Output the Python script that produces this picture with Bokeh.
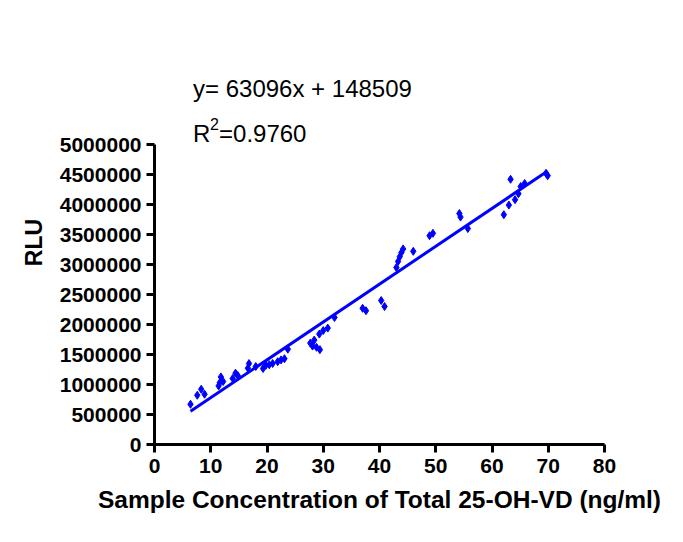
from bokeh.plotting import figure
from bokeh.models import Label, Range1d, FixedTicker, NumeralTickFormatter
from bokeh.embed import file_html
from bokeh.resources import INLINE

# ---- data ----
conc = [6.4, 7.6, 8.3, 8.9, 11.4, 11.6, 11.8, 12.2, 13.9, 14.4, 14.8, 16.6, 16.8, 18.0,
        19.3, 19.8, 20.4, 21.0, 21.9, 22.5, 23.1, 23.7, 27.7, 28.1, 28.4, 28.8, 29.4,
        29.3, 30.0, 30.8, 32.0, 37.0, 37.6, 40.3, 40.9, 43.0, 43.3, 43.6, 43.9, 44.2,
        46.0, 48.9, 49.5, 54.2, 54.4, 55.7, 62.1, 63.0, 63.3, 64.1, 64.7, 65.1, 65.8,
        69.6, 69.9]
rlu = [671000, 821000, 921000, 838000, 977000, 1030000, 1127000, 1050000, 1100000,
       1189000, 1150000, 1272000, 1349000, 1300000, 1266000, 1320000, 1330000, 1350000,
       1380000, 1410000, 1430000, 1589000, 1690000, 1640000, 1740000, 1620000, 1580000,
       1840000, 1900000, 1940000, 2117000, 2270000, 2230000, 2400000, 2300000, 2950000,
       3050000, 3130000, 3200000, 3260000, 3220000, 3480000, 3520000, 3850000, 3790000,
       3600000, 3830000, 3990000, 4420000, 4080000, 4180000, 4300000, 4350000, 4520000,
       4480000]
slope = 63096
intercept = 148509
x_ticks = [0, 10, 20, 30, 40, 50, 60, 70, 80]
y_ticks = [0, 500000, 1000000, 1500000, 2000000, 2500000, 3000000, 3500000,
           4000000, 4500000, 5000000]
eq_text = "y= 63096x + 148509"
r2_parts = ["R", "2", "=0.9760"]
x_title = "Sample Concentration of Total 25-OH-VD (ng/ml)"
y_title = "RLU"

FONT = "Liberation Sans"

# frame spans 404 px vertically; 300 px correspond to 0..5,000,000 (axis bounds)
y_top = 5000000 * 404 / 300

p = figure(width=667, height=526, output_backend="svg", toolbar_location=None,
           x_range=Range1d(0, 80), y_range=Range1d(0, y_top),
           min_border_left=154, min_border_right=63, min_border_top=40,
           min_border_bottom=82)
p.outline_line_color = None
p.xgrid.visible = False
p.ygrid.visible = False
p.background_fill_color = "white"
p.border_fill_color = "white"

# scatter
p.scatter(conc, rlu, marker="diamond", size=8, color="#0000ff")

# regression line
xl = [min(conc), max(conc)]
yl = [slope * v + intercept for v in xl]
p.line(xl, yl, line_color="#0000ff", line_width=3)

for ax in (p.xaxis[0], p.yaxis[0]):
    ax.axis_line_width = 3
    ax.axis_line_color = "black"
    ax.major_tick_line_width = 3
    ax.major_tick_line_color = "black"
    ax.major_tick_in = 0
    ax.major_tick_out = 8
    ax.minor_tick_line_color = None
    ax.major_label_text_font = FONT
    ax.major_label_text_font_style = "bold"
    ax.major_label_text_font_size = "21px"
    ax.major_label_text_color = "black"
    ax.axis_label_text_font = FONT
    ax.axis_label_text_font_style = "bold"
    ax.axis_label_text_color = "black"

p.xaxis.axis_label_text_font_size = "24.5px"
p.yaxis.axis_label_text_font_size = "23px"
p.xaxis.ticker = FixedTicker(ticks=x_ticks)
p.yaxis.ticker = FixedTicker(ticks=y_ticks)
p.yaxis.bounds = (0, 5000000)
p.yaxis.formatter = NumeralTickFormatter(format="0")
p.xaxis.axis_label = x_title
p.yaxis.axis_label = y_title
p.xaxis.major_label_standoff = 6
p.yaxis.major_label_standoff = 5
p.xaxis.axis_label_standoff = 10
p.yaxis.axis_label_standoff = 10

p.add_layout(Label(x=6.85, y=5935000, text=eq_text,
                   text_font=FONT, text_font_size="24px", text_color="black",
                   text_baseline="alphabetic", text_align="left"))
# R² written as R + raised 2 + rest
p.add_layout(Label(x=6.85, y=5188000, text=r2_parts[0],
                   text_font=FONT, text_font_size="24px", text_color="black",
                   text_baseline="alphabetic", text_align="left"))
p.add_layout(Label(x=6.85, y=5188000, x_offset=17, y_offset=9, text=r2_parts[1],
                   text_font=FONT, text_font_size="16px", text_color="black",
                   text_baseline="alphabetic", text_align="left"))
p.add_layout(Label(x=6.85, y=5188000, x_offset=26, text=r2_parts[2],
                   text_font=FONT, text_font_size="24px", text_color="black",
                   text_baseline="alphabetic", text_align="left"))

open("out.html", "w").write(file_html(p, INLINE))
